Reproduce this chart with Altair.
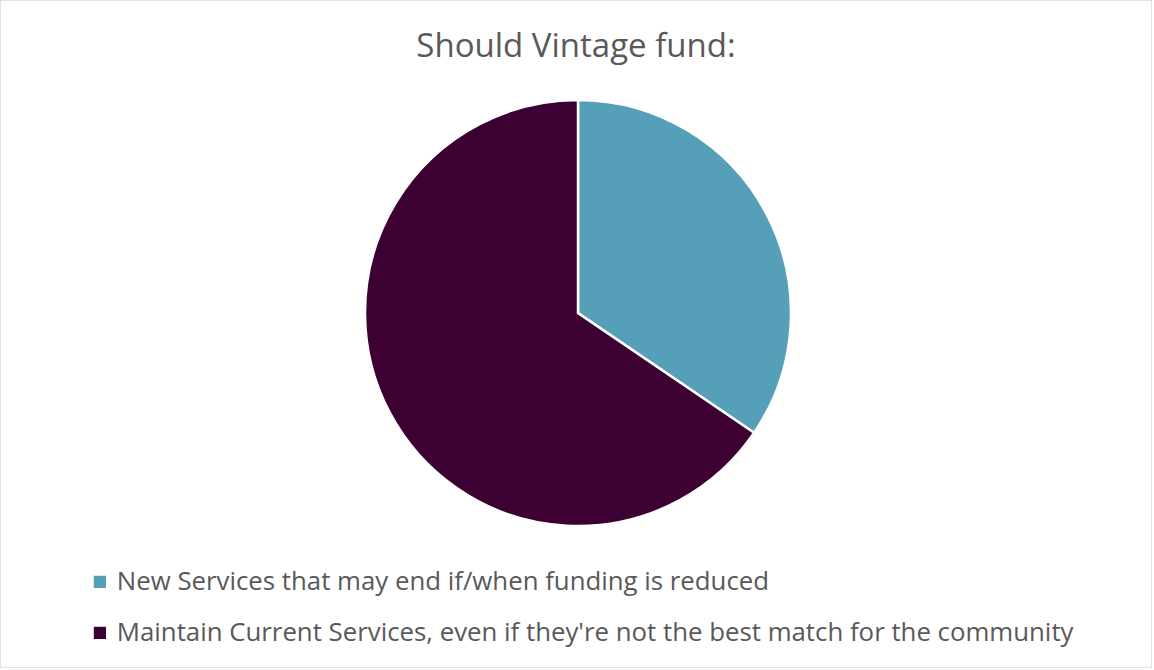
import altair as alt
import pandas as pd

categories = [
    "New Services that may end if/when funding is reduced",
    "Maintain Current Services, even if they're not the best match for the community",
]
values = [34.5, 65.5]
colors = ["#569FB8", "#3D0033"]

df = pd.DataFrame({"category": categories, "value": values, "order": [0, 1]})

chart = (
    alt.Chart(df)
    .mark_arc(radius=213, stroke="white", strokeWidth=2.5)
    .encode(
        theta=alt.Theta("value:Q", stack=True),
        order=alt.Order("order:Q"),
        color=alt.Color(
            "category:N",
            scale=alt.Scale(domain=categories, range=colors),
            sort=categories,
            legend=alt.Legend(
                title=None,
                orient="none",
                legendX=87,
                legendY=569,
                symbolType="square",
                symbolSize=150,
                symbolStrokeWidth=0,
                labelFontSize=25.8,
                labelFont="Open Sans",
                labelColor="#595959",
                labelLimit=1100,
                rowPadding=24,
                labelOffset=4,
            ),
        ),
        x=alt.value(578),
        y=alt.value(313),
    )
    .properties(
        width=1152,
        height=668,
        padding=0,
        title=alt.TitleParams(
            "Should Vintage fund:",
            fontSize=33,
            font="Open Sans",
            fontWeight="normal",
            color="#595959",
            offset=-64,
            anchor="middle",
        ),
    )
    .configure_view(stroke="#D9D9D9", strokeWidth=1.5)
)

chart.save("out.html", embed_options={"renderer": "svg", "actions": False})
